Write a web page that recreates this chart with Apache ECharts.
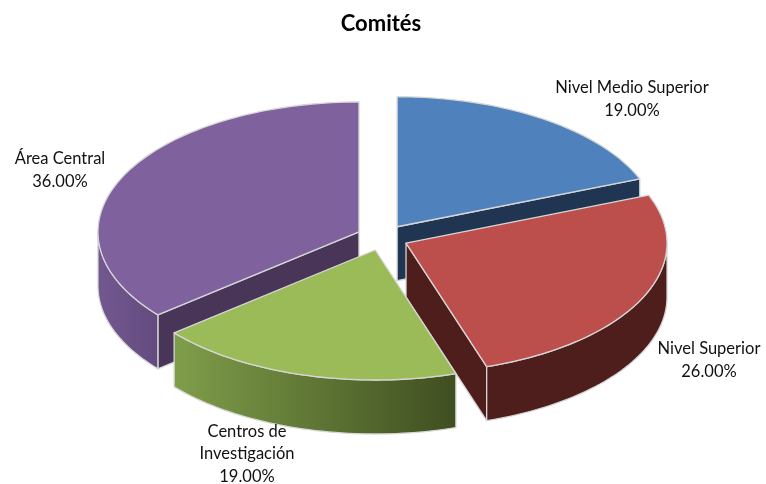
<!DOCTYPE html>
<html>
<head>
<meta charset="utf-8">
<style>html,body{margin:0;padding:0;background:#fff}#c{width:766px;height:484px}</style>
<script src="https://cdn.jsdelivr.net/npm/echarts@6/dist/echarts.min.js"></script>
</head>
<body>
<div id="c"></div>
<script>
var categories = ['Nivel Medio Superior', 'Nivel Superior', 'Centros de\nInvestigación', 'Área Central'];
var values = [19, 26, 19, 36];

var topColors = ['#4f81bd', '#bc4f4c', '#9bbb59', '#7f619e'];
var radialColors = ['#1f3552', '#4d1e1c', '#3f4e20', '#483558'];
var outerFills = [
  '#1f3552',
  '#4d1e1c',
  { type: 'linear', x: 0, y: 0, x2: 1, y2: 0, colorStops: [{ offset: 0, color: '#7f9e4a' }, { offset: 1, color: '#3f4e20' }] },
  { type: 'linear', x: 0, y: 0, x2: 1, y2: 0, colorStops: [{ offset: 0, color: '#72588f' }, { offset: 1, color: '#644b7e' }] }
];
var drawOrder = [0, 3, 1, 2];
var labelAnchors = [[632, 99], [709, 360], [247, 454], [60, 170]];

var CX = 382.5, CY = 237.5, RX = 261, RY = 130, DEPTH = 54, EXPLODE = 26;
var EDGE = '#d6d6d6';
var total = values.reduce(function (a, b) { return a + b; }, 0);
var rad = function (d) { return d * Math.PI / 180; };

function slice(idx) {
  var start = 0;
  for (var i = 0; i < idx; i++) start += values[i] / total * 360;
  var end = start + values[idx] / total * 360;
  return { start: start, end: end, mid: (start + end) / 2 };
}

function renderItem(params, api) {
  var idx = params.dataIndex;
  var s = slice(idx);
  var ox = CX + EXPLODE * Math.sin(rad(s.mid));
  var oy = CY - EXPLODE * 0.5 * Math.cos(rad(s.mid));
  var pt = function (a, dz) {
    return [ox + RX * Math.sin(rad(a)), oy - RY * Math.cos(rad(a)) + (dz || 0)];
  };
  var arc = function (a, b, dz) {
    var pts = [], n = Math.max(2, Math.ceil((b - a) / 1.5));
    for (var i = 0; i <= n; i++) pts.push(pt(a + (b - a) * i / n, dz));
    return pts;
  };
  var z = drawOrder.indexOf(idx) * 10;
  var kids = [];
  var poly = function (points, fill, zz) {
    kids.push({
      type: 'polygon',
      shape: { points: points },
      z2: z + zz,
      style: { fill: fill, stroke: EDGE, lineWidth: 1.3, lineJoin: 'round' }
    });
  };
  var apex = [ox, oy], apexB = [ox, oy + DEPTH];
  // radial walls facing the viewer
  [[s.start, s.start - 90], [s.end, s.end + 90]].forEach(function (w) {
    if (Math.cos(rad(w[1])) < -1e-6) {
      var p = pt(w[0]), q = pt(w[0], DEPTH);
      poly([apex, p, q, apexB], radialColors[idx], 1);
    }
  });
  // outer rim, front half only
  var a = Math.max(s.start, 90), b = Math.min(s.end, 270);
  if (b > a) {
    poly(arc(a, b, 0).concat(arc(a, b, DEPTH).reverse()), outerFills[idx], 2);
  }
  // top face
  poly([apex].concat(arc(s.start, s.end, 0)), topColors[idx], 3);
  kids.push({
    type: 'text',
    z2: 100,
    style: {
      x: labelAnchors[idx][0],
      y: labelAnchors[idx][1],
      text: categories[idx] + '\n' + api.value(0).toFixed(2) + '%',
      fill: '#111',
      font: '16.5px Lato',
      lineHeight: 22.5,
      align: 'center',
      verticalAlign: 'middle'
    }
  });
  return { type: 'group', children: kids };
}

var chart = echarts.init(document.getElementById('c'), null, { renderer: 'canvas' });
chart.setOption({
  animation: false,
  backgroundColor: '#fff',
  title: {
    text: 'Comités',
    left: 376,
    top: 8,
    textAlign: 'center',
    textStyle: { fontFamily: 'Lato', fontWeight: 'bold', fontSize: 22, color: '#000' }
  },
  series: [{
    type: 'custom',
    coordinateSystem: 'none',
    renderItem: renderItem,
    data: values.map(function (v, i) { return { name: categories[i], value: [v] }; })
  }]
});
</script>
</body>
</html>
